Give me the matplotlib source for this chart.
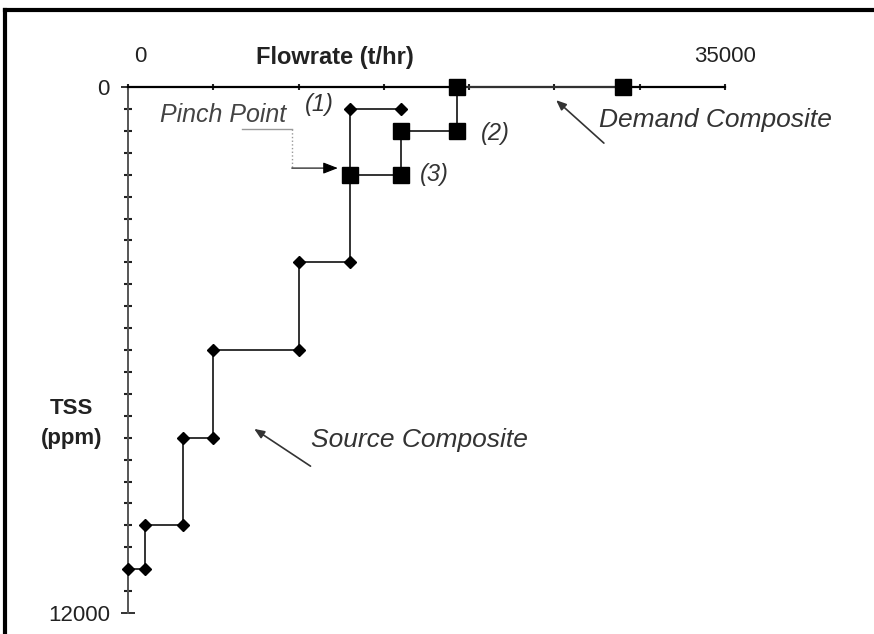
import matplotlib
matplotlib.use("Agg")
import matplotlib.pyplot as plt
from matplotlib.lines import Line2D

plt.rcParams['font.family'] = ['Liberation Sans', 'DejaVu Sans']

# source composite (diamonds), flowrate t/hr vs TSS ppm
source_flow = [0, 1000, 1000, 3200, 3200, 5000, 5000, 10000, 10000, 13000, 13000, 16000]
source_tss = [11000, 11000, 10000, 10000, 8000, 8000, 6000, 6000, 4000, 4000, 500, 500]

# demand composite (squares)
demand_flow = [13000, 16000, 16000, 19300, 19300, 29000]
demand_tss = [2000, 2000, 1000, 1000, 0, 0]

x_max = 35000
y_max = 12000
x_ticks = [0, 5000, 10000, 15000, 20000, 25000, 30000, 35000]
x_ticklabels = ['', '', '', '', '', '', '', '35000']
y_minor = list(range(0, 12001, 500))

fig = plt.figure(figsize=(8.74, 6.34), dpi=100)
ax = fig.add_axes([128/874, 1 - 613/634, 597/874, 526/634])

ax.set_xlim(0, x_max)
ax.set_ylim(y_max, 0)
for s in ['right', 'bottom']:
    ax.spines[s].set_visible(False)
ax.spines['top'].set_linewidth(1.6)
ax.spines['left'].set_linewidth(1.4)
ax.spines['left'].set_color('#555555')

ax.xaxis.tick_top()
ax.set_xticks(x_ticks)
ax.set_xticklabels(x_ticklabels)
ax.tick_params(axis='x', direction='inout', length=5, width=1.5, pad=12,
               labelsize=16, colors='#222222')
# the "0" on top sits a bit right of the axis in the original
ax.text(700, -690, '0', fontsize=16, color='#222222', ha='center', va='center',
        clip_on=False)
ax.set_yticks([0, y_max])
ax.set_yticklabels(['0', '12000'])
ax.set_yticks(y_minor, minor=True)
ax.tick_params(axis='y', which='major', direction='inout', length=10, width=1.3,
               pad=8, labelsize=16, colors='#222222')
ax.tick_params(axis='y', which='minor', direction='inout', length=6, width=1.5,
               colors='#222222')

# source composite
ax.plot(source_flow, source_tss, color='#333333', lw=1.4, marker='D', ms=6,
        mfc='black', mec='black', clip_on=False, zorder=3)
# demand composite
ax.plot(demand_flow, demand_tss, color='#333333', lw=1.4, marker='s', ms=11,
        mfc='black', mec='black', clip_on=False, zorder=4)

# axis titles
ax.text(12100, -680, 'Flowrate (t/hr)', fontsize=17, fontweight='bold',
        ha='center', va='center', color='#222222', clip_on=False)
ax.text(-3300, 7680, 'TSS\n(ppm)', fontsize=16, fontweight='bold',
        ha='center', va='center', color='#222222', linespacing=1.6, clip_on=False)

# point labels
lab = dict(fontsize=17, style='italic', color='#333333', va='center')
ax.text(11200, 400, '(1)', ha='center', **lab)
ax.text(20700, 1050, '(2)', ha='left', **lab)
ax.text(17100, 2000, '(3)', ha='left', **lab)

# pinch point annotation
ax.text(1900, 650, 'Pinch Point', fontsize=18, style='italic', color='#444444',
        ha='left', va='center')
ax.plot([6700, 9600], [960, 960], color='#999999', lw=1)
ax.plot([9600, 9600], [960, 1820], color='#999999', lw=1, ls=':')
ax.annotate('', xy=(12300, 1850), xytext=(9600, 1850),
            arrowprops=dict(arrowstyle='-|>,head_length=0.9,head_width=0.35',
                            color='black', lw=0.8, shrinkA=0, shrinkB=0))

# composite labels with arrows
ax.annotate('', xy=(25100, 300), xytext=(27900, 1280),
            arrowprops=dict(arrowstyle='-|>,head_length=0.6,head_width=0.25',
                            color='#333333', lw=1.2, shrinkA=0, shrinkB=0))
ax.text(27600, 750, 'Demand Composite', fontsize=19, style='italic',
        color='#333333', ha='left', va='center')
ax.annotate('', xy=(7400, 7800), xytext=(10700, 8650),
            arrowprops=dict(arrowstyle='-|>,head_length=0.6,head_width=0.25',
                            color='#333333', lw=1.2, shrinkA=0, shrinkB=0))
ax.text(10700, 8050, 'Source Composite', fontsize=19, style='italic',
        color='#333333', ha='left', va='center')

# scanned page frame (top and left edges)
fig.add_artist(Line2D([5/874, 5/874], [0, 1 - 10/634], color='black', lw=3))
fig.add_artist(Line2D([5/874, 1], [1 - 10/634, 1 - 10/634], color='black', lw=3))

fig.savefig('out.png', dpi=100)
